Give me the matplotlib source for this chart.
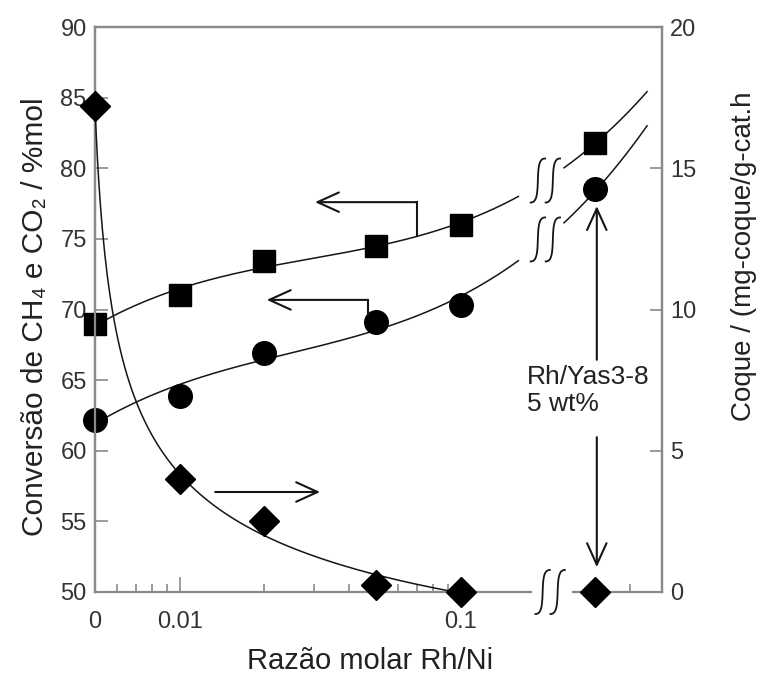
import numpy as np
import matplotlib.pyplot as plt
from matplotlib.ticker import NullFormatter
from matplotlib.transforms import ScaledTranslation

plt.rcParams['font.family'] = ['Liberation Sans', 'DejaVu Sans']

# dados
razao = [0, 0.01, 0.02, 0.05, 0.1]          # razão molar Rh/Ni
conv_quadrado = [69.0, 71.0, 73.4, 74.5, 76.0]
conv_circulo = [62.2, 63.9, 66.9, 69.1, 70.3]
coque = [17.2, 4.0, 2.5, 0.25, 0.0]
# Rh/Yas3-8 5 wt% (fora da escala, depois da quebra)
rh_yas_quadrado = 81.8
rh_yas_circulo = 78.5
rh_yas_coque = 0.0

pos_zero = 0.005      # onde o "0" fica no eixo log
pos_rh_yas = 0.3
pos_quebra = 0.2
gap = (0.162, 0.232)  # trecho escondido pela quebra

xpos = np.array([pos_zero if v == 0 else v for v in razao])
cinza = '#8a8a8a'
preto = '#151515'


def curva_ajuste(x, y, xx, grau=3):
    # polinômio em log(x) ajustado por mínimos quadrados
    coef = np.polyfit(np.log10(x), y, grau)
    return np.polyval(coef, np.log10(xx))


def ajuste_coque(x, y, xx):
    # y = a/(v+c)^p - d em v = log10(x/x0), mínimos quadrados
    v = np.log10(x / x[0])
    vv = np.log10(xx / x[0])
    melhor = None
    for p in np.linspace(0.3, 2.5, 45):
        for c in np.linspace(0.02, 1.0, 99):
            A = np.column_stack([1 / (v + c) ** p, -np.ones_like(v)])
            coef = np.linalg.lstsq(A, y, rcond=None)[0]
            err = np.sum((A @ coef - y) ** 2)
            if melhor is None or err < melhor[0]:
                melhor = (err, c, p, coef)
    _, c, p, (a, d) = melhor
    return a / (vv + c) ** p - d


def quebra(ax, x, y, altura=0.44):
    # duas marcas tipo "ʃ" centradas em (x, y)
    tr = ax.figure.dpi_scale_trans + ScaledTranslation(x, y, ax.transData)
    t = np.linspace(-1, 1, 80)
    for dx in (-0.075, 0.075):
        xs = dx + 0.012 * t + 0.06 * t**3
        ys = altura / 2 * np.sin(np.pi / 2 * t)
        ax.plot(xs, ys, color=preto, lw=1.3, transform=tr, clip_on=False, zorder=6)


fig = plt.figure(figsize=(7.59, 6.81), dpi=100)
ax = fig.add_axes([95 / 759, 89 / 681, 567 / 759, 565 / 681])
ax2 = ax.twinx()

ax.set_xscale('log')
ax.set_xlim(0.005, 0.52)
ax.set_ylim(50, 90)
ax2.set_ylim(0, 20)

x_todos = np.append(xpos, pos_rh_yas)
xx = np.logspace(np.log10(pos_zero), np.log10(0.46), 400)
esq = xx <= gap[0]
dir_ = xx >= gap[1]

for serie, rh, mk, ms in [(conv_quadrado, rh_yas_quadrado, 's', 16),
                          (conv_circulo, rh_yas_circulo, 'o', 17)]:
    y_todos = np.append(serie, rh)
    yy = curva_ajuste(x_todos, y_todos, xx)
    ax.plot(xx[esq], yy[esq], color=preto, lw=1.1, zorder=3)
    ax.plot(xx[dir_], yy[dir_], color=preto, lw=1.1, zorder=3)
    ax.plot(x_todos, y_todos, mk, color='black', ms=ms, zorder=4, clip_on=False)
    yq = curva_ajuste(x_todos, y_todos, np.array([pos_quebra]))[0]
    quebra(ax, pos_quebra, yq)

xc = np.logspace(np.log10(pos_zero), np.log10(0.1), 300)
ax2.plot(xc, ajuste_coque(xpos, np.array(coque), xc), color=preto, lw=1.1, zorder=3)
ax2.plot(np.append(xpos, pos_rh_yas), np.append(coque, rh_yas_coque), 'D',
         color='black', ms=15.5, zorder=5, clip_on=False)

# eixos
for a in (ax, ax2):
    for s in a.spines.values():
        s.set_color(cinza)
        s.set_linewidth(1.6)
ax2.spines['bottom'].set_visible(False)
ax.spines['bottom'].set_bounds(0.005, 0.178)
ax.plot([0.25, 0.52], [0, 0], color=cinza, lw=1.6, clip_on=False,
        transform=ax.get_xaxis_transform(), zorder=2.5)
quebra(ax2, 0.208, 0)

ax.set_xticks([0.005, 0.01, 0.1], ['0', '0.01', '0.1'])
ax.set_xticks([0.006, 0.007, 0.008, 0.009, 0.02, 0.03, 0.04, 0.05, 0.06,
               0.07, 0.08, 0.09, 0.4], minor=True)
ax.xaxis.set_minor_formatter(NullFormatter())
ax.set_yticks(np.arange(50, 91, 5))
ax2.set_yticks(np.arange(0, 21, 5))

ax.tick_params(axis='x', which='major', direction='in', length=11, width=1.2,
               color=cinza, pad=14, labelsize=17, labelcolor='#333333')
ax.tick_params(axis='x', which='minor', direction='in', length=6, width=1.2, color=cinza)
ax.tick_params(axis='y', direction='in', length=9, width=1.2, color=cinza,
               pad=6, labelsize=17, labelcolor='#333333')
ax2.tick_params(axis='y', direction='in', length=9, width=1.2, color=cinza,
                pad=6, labelsize=17, labelcolor='#333333')

ax.set_xlabel('Razão molar Rh/Ni', fontsize=21, color='#222222')
ax.xaxis.set_label_coords(0.485, -0.098)
ax.set_ylabel('Conversão de CH₄ e CO₂ / %mol', fontsize=21.5, color='#222222',
              va='center', ha='center')
ax.yaxis.set_label_coords(-0.106, 0.487)
ax2.set_ylabel('Coque / (mg-coque/g-cat.h', fontsize=20, color='#222222',
               va='center', ha='center')
ax2.yaxis.set_label_coords(1.145, 0.595)

# setas
seta = dict(arrowstyle='->, head_length=0.55, head_width=0.25', color=preto,
            lw=1.5, mutation_scale=28, shrinkA=0, shrinkB=0)
linha = dict(color=preto, lw=1.5, transform=ax.transAxes, clip_on=False, zorder=5)
ax.plot([0.568, 0.568], [0.630, 0.690], **linha)
ax.annotate('', xy=(0.388, 0.690), xytext=(0.568, 0.690),
            xycoords='axes fraction', arrowprops=seta)
ax.plot([0.481, 0.481], [0.490, 0.517], **linha)
ax.annotate('', xy=(0.303, 0.517), xytext=(0.481, 0.517),
            xycoords='axes fraction', arrowprops=seta)
ax.annotate('', xy=(0.397, 0.177), xytext=(0.212, 0.177),
            xycoords='axes fraction', arrowprops=seta)
ax.annotate('', xy=(0.885, 0.683), xytext=(0.885, 0.411),
            xycoords='axes fraction', arrowprops=seta)
ax.annotate('', xy=(0.885, 0.044), xytext=(0.885, 0.274),
            xycoords='axes fraction', arrowprops=seta)
ax.text(0.762, 0.402, 'Rh/Yas3-8\n5 wt%', transform=ax.transAxes, fontsize=19,
        color='#222222', va='top', ha='left', linespacing=1.15)

fig.savefig('out.png', dpi=100)
